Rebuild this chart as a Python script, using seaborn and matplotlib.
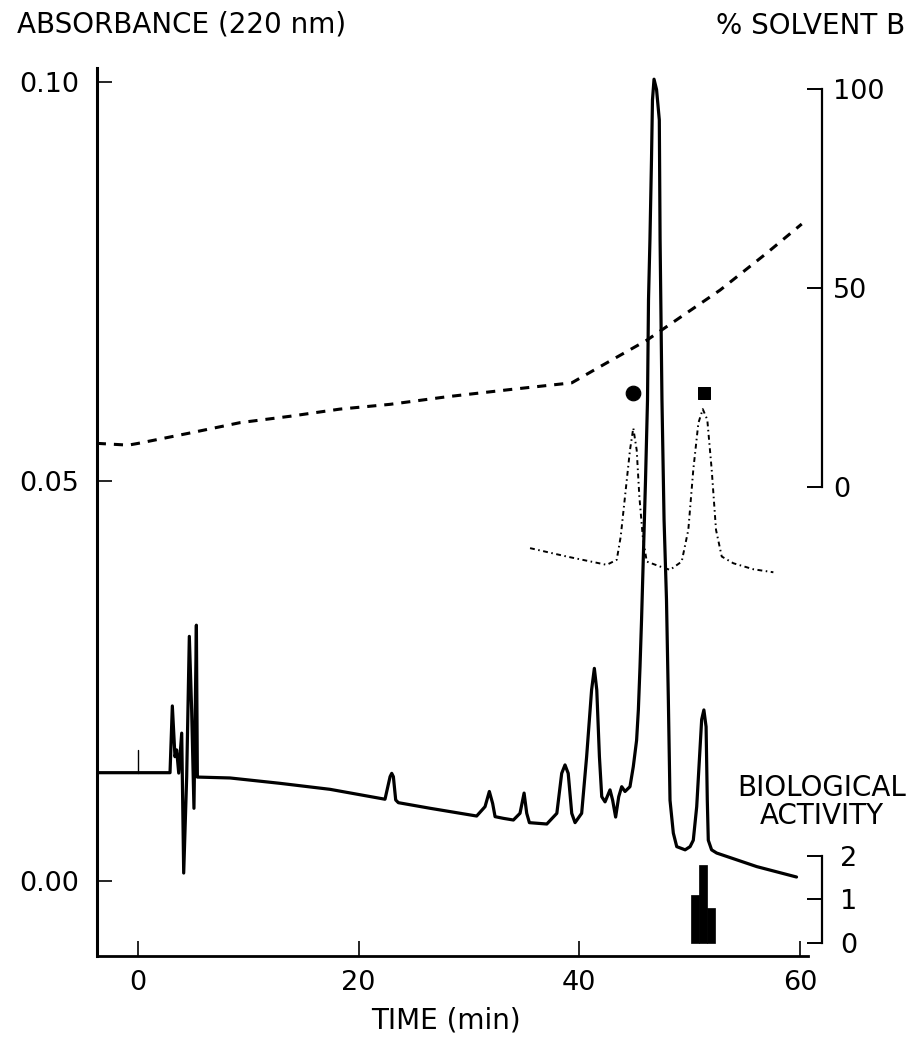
import matplotlib
matplotlib.use("Agg")
import matplotlib.pyplot as plt
import seaborn as sns
import numpy as np
import pandas as pd

# ---------------- data ----------------
# main chromatogram: time (min) vs absorbance at 220 nm
trace_time = [-3.72, 2.90, 3.11, 3.35, 3.50, 3.69, 3.96, 4.14, 4.41, 4.65, 4.86, 5.07,
              5.29, 5.38, 5.47, 8.34, 12.87, 17.40, 22.39, 22.85, 23.00, 23.15, 23.36,
              23.60, 26.47, 30.70, 31.46, 31.85, 32.15, 32.37, 33.12, 34.03, 34.63,
              35.00, 35.24, 35.48, 37.06, 37.97, 38.41, 38.71, 39.00, 39.32, 39.62,
              40.22, 40.67, 41.12, 41.37, 41.59, 41.83, 42.04, 42.34, 42.79, 43.03,
              43.30, 43.58, 43.85, 44.15, 44.60, 44.90, 45.20, 45.36, 45.51, 45.65,
              46.01, 46.19, 46.28, 46.41, 46.55, 46.64, 46.78, 47.01, 47.26, 47.33,
              47.50, 47.69, 47.91, 48.08, 48.23, 48.53, 48.84, 49.60, 50.05, 50.34,
              50.65, 51.10, 51.30, 51.50, 51.61, 51.70, 52.00, 52.46, 56.10, 59.70]
trace_abs = [0.01355, 0.01355, 0.0219, 0.01555, 0.0164, 0.0135, 0.0185, 0.0010, 0.0130,
             0.0306, 0.0214, 0.0091, 0.0320, 0.0130, 0.0130, 0.01289, 0.01222, 0.01147,
             0.01023, 0.01305, 0.01347, 0.01305, 0.01014, 0.0098, 0.0091, 0.00813,
             0.0093, 0.0112, 0.0097, 0.00805, 0.00784, 0.00763, 0.00847, 0.0110,
             0.00847, 0.0073, 0.00713, 0.00847, 0.01347, 0.01452, 0.01347, 0.00847,
             0.0073, 0.00847, 0.01555, 0.0239, 0.0266, 0.0239, 0.01555, 0.01055,
             0.0099, 0.0114, 0.0101, 0.0080, 0.01055, 0.0118, 0.0112, 0.0118, 0.0143,
             0.0176, 0.0214, 0.0268, 0.0327, 0.0502, 0.0602, 0.0727, 0.0802, 0.0902,
             0.0977, 0.1003, 0.0990, 0.0952, 0.0802, 0.0602, 0.0452, 0.0352, 0.0226,
             0.0101, 0.0060, 0.0043, 0.0039, 0.0043, 0.0051, 0.0093, 0.0202, 0.0214,
             0.0193, 0.0101, 0.0051, 0.0039, 0.0035, 0.0018, 0.0005]

# injection mark at t = 0
inject_time = [0.0, 0.0]
inject_abs = [0.01355, 0.0164]

# re-chromatography trace (dotted inset)
rechrom_time = [35.54, 38.87, 42.49, 43.40, 43.76, 44.15, 44.60, 44.90, 45.21, 45.45,
                45.76, 46.12, 47.33, 48.23, 49.29, 49.89, 50.34, 50.80, 51.20, 51.61,
                52.01, 52.40, 52.92, 53.97, 55.78, 57.60]
rechrom_abs = [0.04164, 0.04059, 0.03955, 0.04018, 0.04309, 0.0481, 0.0539, 0.05666,
               0.0539, 0.0481, 0.04309, 0.03996, 0.03934, 0.03892, 0.03996, 0.04393,
               0.05144, 0.05728, 0.05903, 0.0577, 0.05144, 0.04393, 0.04059, 0.03975,
               0.0390, 0.03862]

# peak labels above the re-chromatography peaks
circle_time, circle_abs = [44.85], [0.0611]
square_time, square_abs = [51.30], [0.0611]

# solvent gradient (% solvent B)
grad_time = [-3.74, -0.88, 0.03, 4.71, 9.25, 13.78, 18.30, 22.85, 27.99, 34.00, 39.32,
             41.59, 46.12, 52.77, 57.00, 60.17]
grad_pct = [11.0, 10.55, 11.0, 13.6, 16.2, 17.8, 19.6, 20.8, 22.7, 24.6, 26.2, 29.8,
            36.9, 49.5, 58.8, 66.1]

# biological activity of collected fractions
fraction_time = [50.50, 51.25, 51.92]
activity = [1.1, 1.8, 0.8]

x_ticks = [0, 20, 40, 60]
abs_ticks = [0.00, 0.05, 0.10]
abs_tick_labels = ["0.00", "0.05", "0.10"]
pct_ticks = [0, 50, 100]
act_ticks = [0, 1, 2]

# ---------------- figure ----------------
sns.set_theme(style="ticks")
plt.rcParams["font.family"] = ["DejaVu Sans"]
W, H = 915, 1050
fig = plt.figure(figsize=(W / 100, H / 100), dpi=100)
fig.patch.set_facecolor("white")

x_left, x_right, y_top, y_bot = 97, 808, 68, 956
ax = fig.add_axes([x_left / W, (H - y_bot) / H, (x_right - x_left) / W, (y_bot - y_top) / H])
ax.set_facecolor("white")
ax.set_xlim(-3.72, 60.74)
ax.set_ylim(-0.00938, 0.1017)

main_df = pd.DataFrame({"t": trace_time, "a": trace_abs})
sns.lineplot(data=main_df, x="t", y="a", ax=ax, color="black", lw=2.3,
             estimator=None, sort=False, zorder=3)
ax.lines[-1].set_solid_joinstyle("round")
sns.lineplot(x=inject_time, y=inject_abs, ax=ax, color="black", lw=1.0,
             estimator=None, sort=False)
re_df = pd.DataFrame({"t": rechrom_time, "a": rechrom_abs})
sns.lineplot(data=re_df, x="t", y="a", ax=ax, color="black", lw=1.4,
             linestyle=(0, (2.5, 1.8, 0.8, 1.8)), estimator=None, sort=False)
sns.scatterplot(x=circle_time, y=circle_abs, ax=ax, marker="o", s=110, color="black",
                edgecolor="black", zorder=4)
sns.scatterplot(x=square_time, y=square_abs, ax=ax, marker="s", s=80, color="black",
                edgecolor="black", zorder=4)

for side in ["top", "right"]:
    ax.spines[side].set_visible(False)
ax.spines["left"].set_linewidth(2.2)
ax.spines["bottom"].set_linewidth(2.0)
ax.spines["left"].set_color("black")
ax.spines["bottom"].set_color("black")
ax.set_xticks(x_ticks)
ax.set_xticklabels([str(v) for v in x_ticks])
ax.set_yticks(abs_ticks)
ax.set_yticklabels(abs_tick_labels)
ax.tick_params(axis="y", direction="in", length=11, width=1.2, labelsize=19.5, pad=13,
               colors="black")
ax.tick_params(axis="x", direction="in", length=11, width=1.2, labelsize=19.5, pad=10,
               colors="black")
ax.set_xlabel("")
ax.set_ylabel("")
ax.grid(False)

# solvent B axis
ax2 = ax.twinx()
ax2.set_ylim(-117.8, 105.3)
grad_df = pd.DataFrame({"t": grad_time, "p": grad_pct})
sns.lineplot(data=grad_df, x="t", y="p", ax=ax2, color="black", lw=2.2,
             dashes=False, estimator=None, sort=False)
ax2.lines[-1].set_dashes((3.0, 2.6))
for side in ["top", "left", "bottom"]:
    ax2.spines[side].set_visible(False)
ax2.spines["right"].set_position(("outward", 10))
ax2.spines["right"].set_bounds(0, 100)
ax2.spines["right"].set_linewidth(1.6)
ax2.spines["right"].set_color("black")
ax2.set_yticks(pct_ticks)
ax2.set_yticklabels([str(v) for v in pct_ticks])
ax2.tick_params(axis="y", direction="in", length=11, width=1.4, labelsize=19.5, pad=8,
                colors="black")
ax2.set_ylabel("")
ax2.set_xlabel("")
ax2.grid(False)

# biological activity axis
ax3 = ax.twinx()
ax3.set_ylim(-0.299, 20.11)
ax3.bar(fraction_time, activity, width=0.72, color="black", edgecolor="black",
        linewidth=0.5, zorder=3)
for side in ["top", "left", "bottom"]:
    ax3.spines[side].set_visible(False)
ax3.spines["right"].set_position(("outward", 10))
ax3.spines["right"].set_bounds(0, 2)
ax3.spines["right"].set_linewidth(1.6)
ax3.spines["right"].set_color("black")
ax3.set_yticks(act_ticks)
ax3.set_yticklabels([str(v) for v in act_ticks])
ax3.tick_params(axis="y", direction="in", length=11, width=1.4, labelsize=19.5, pad=13,
                colors="black")
ax3.set_ylabel("")
ax3.grid(False)

# texts
fig.text(17 / W, 1 - 24 / H, "ABSORBANCE (220 nm)", ha="left", va="center",
         fontsize=20, color="black")
fig.text(905 / W, 1 - 26 / H, "% SOLVENT B", ha="right", va="center",
         fontsize=20, color="black")
fig.text(822 / W, 1 - 802 / H, "BIOLOGICAL\nACTIVITY", ha="center", va="center",
         fontsize=20, color="black", linespacing=1.0, multialignment="center")
fig.text(446 / W, 1 - 1021 / H, "TIME (min)", ha="center", va="center",
         fontsize=20, color="black")

fig.savefig("out.png", dpi=100, facecolor="white")
